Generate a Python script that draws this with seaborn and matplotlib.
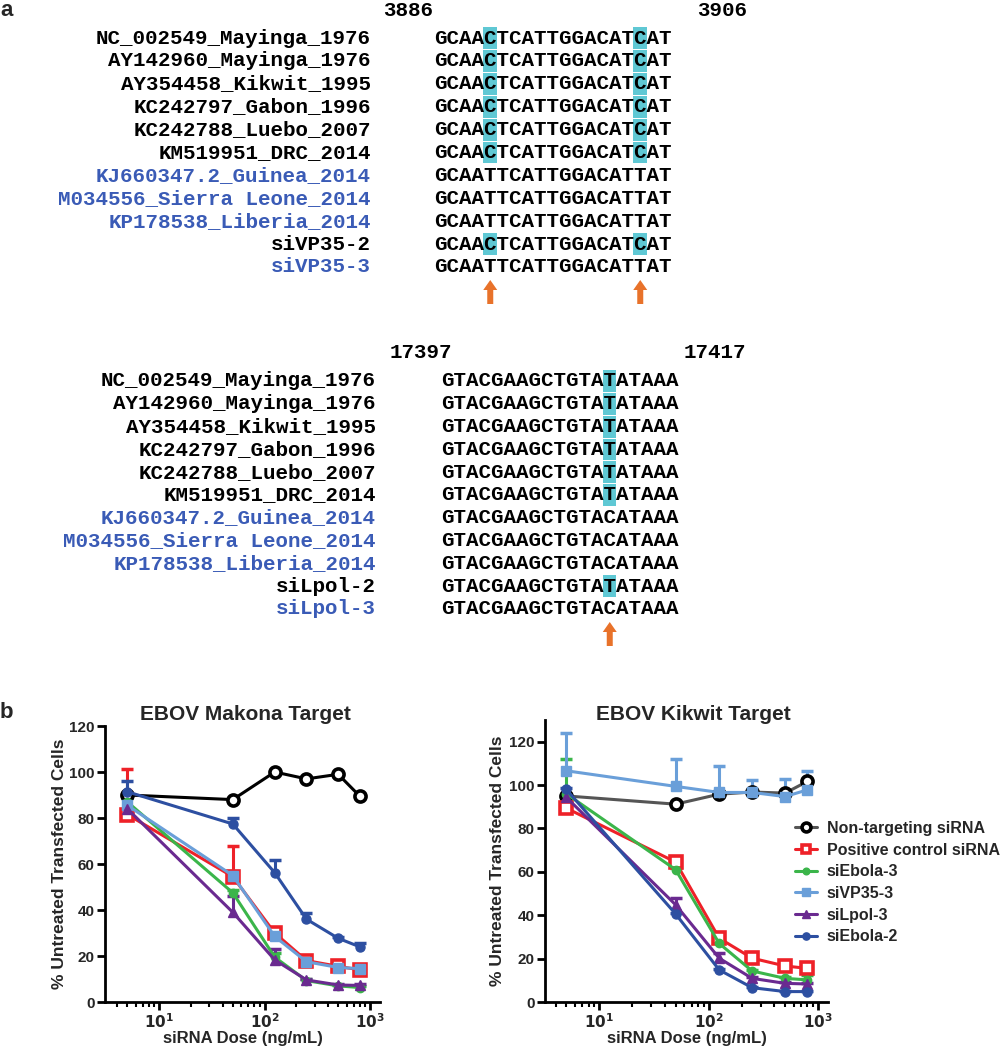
import numpy as np
import pandas as pd
import matplotlib
matplotlib.use("Agg")
import matplotlib.pyplot as plt
from matplotlib.ticker import FixedLocator, LogLocator, NullFormatter, FuncFormatter
import seaborn as sns

# ---- panel a: alignments ----
strains = ["NC_002549_Mayinga_1976", "AY142960_Mayinga_1976", "AY354458_Kikwit_1995",
           "KC242797_Gabon_1996", "KC242788_Luebo_2007", "KM519951_DRC_2014",
           "KJ660347.2_Guinea_2014", "M034556_Sierra Leone_2014", "KP178538_Liberia_2014"]
west_africa = [False] * 6 + [True] * 3

vp35_labels = strains + ["siVP35-2", "siVP35-3"]
vp35_blue = west_africa + [False, True]
vp35_seqs = ["GCAACTCATTGGACATCAT"] * 6 + ["GCAATTCATTGGACATTAT"] * 3 + \
            ["GCAACTCATTGGACATCAT", "GCAATTCATTGGACATTAT"]
vp35_pos = ["3886", "3906"]

lpol_labels = strains + ["siLpol-2", "siLpol-3"]
lpol_blue = west_africa + [False, True]
lpol_seqs = ["GTACGAAGCTGTATATAAA"] * 6 + ["GTACGAAGCTGTACATAAA"] * 3 + \
            ["GTACGAAGCTGTATATAAA", "GTACGAAGCTGTACATAAA"]
lpol_pos = ["17397", "17417"]

# ---- panel b: dose response ----
doses = [5, 50, 125, 250, 500, 800]
sirnas = ["Non-targeting siRNA", "Positive control siRNA", "siEbola-3",
          "siVP35-3", "siLpol-3", "siEbola-2"]

makona_mean = {
    "Non-targeting siRNA": [90, 88, 100, 97, 99, 89.5],
    "Positive control siRNA": [81.5, 54.5, 30, 18, 15.5, 14],
    "siEbola-3": [87, 47.5, 19.5, 9.3, 7, 6.3],
    "siVP35-3": [85.5, 55, 28.5, 17.5, 15, 14.5],
    "siLpol-3": [84, 39, 18.3, 9.6, 7.4, 7.2],
    "siEbola-2": [91.4, 77.4, 56.2, 36, 27.7, 24],
}
makona_err = {
    "Non-targeting siRNA": [0, 0, 0, 0, 0, 0],
    "Positive control siRNA": [20, 13.5, 2, 1, 1, 1],
    "siEbola-3": [3, 1, 2, 0.5, 0.5, 0.5],
    "siVP35-3": [3, 2, 2, 1, 1, 1],
    "siLpol-3": [5, 7, 4.6, 0.5, 0.5, 0.5],
    "siEbola-2": [4.5, 2.5, 5.5, 2.8, 0.5, 1.5],
}
kikwit_mean = {
    "Non-targeting siRNA": [95, 91.2, 95.8, 96.8, 96.3, 101.7],
    "Positive control siRNA": [89.4, 64.5, 29.4, 20.2, 16.6, 15.5],
    "siEbola-3": [96, 61, 27, 14.3, 10.9, 10.2],
    "siVP35-3": [106.6, 99.4, 96.6, 96.6, 94.7, 97.8],
    "siLpol-3": [94.4, 44.8, 20.2, 10.9, 8.6, 8.3],
    "siEbola-2": [98, 40.6, 14.8, 6.6, 4.8, 4.8],
}
kikwit_err = {
    "Non-targeting siRNA": [0, 0, 0, 0, 0, 0],
    "Positive control siRNA": [1, 1.5, 1, 0.5, 0.5, 0.5],
    "siEbola-3": [16, 1, 1, 0.5, 0.5, 2.3],
    "siVP35-3": [17.4, 12.6, 12, 5.8, 8.2, 8.5],
    "siLpol-3": [1, 3, 2.3, 0.5, 0.5, 0.5],
    "siEbola-2": [0.5, 0.5, 0.5, 0.5, 0.3, 0.3],
}

# color, marker, open marker, marker size
styles = {
    "Non-targeting siRNA": ("black", "o", True, 8),
    "Positive control siRNA": ("#ee2128", "s", True, 8),
    "siEbola-3": ("#3bb54a", "o", False, 6),
    "siVP35-3": ("#6a9fd9", "s", False, 7),
    "siLpol-3": ("#6a2a90", "^", False, 6.5),
    "siEbola-2": ("#2d4fa1", "o", False, 6.5),
}

W, H = 1003, 1050
sns.set_style("ticks")
plt.rcParams["font.family"] = ["Liberation Sans", "DejaVu Sans"]

fig = plt.figure(figsize=(W / 100, H / 100), dpi=100)

# layout axes in pixel units for the alignment text
axa = fig.add_axes([0, 0, 1, 1])
axa.set_xlim(0, W)
axa.set_ylim(H, 0)
axa.axis("off")

MONO = "Liberation Mono"
FS = 15
CW = FS * 100 / 72 * 0.6   # monospace character advance in px
BLUE = "#3a5bb6"
HL = "#5fc8d4"
ORANGE = "#e8722a"


def draw_block(labels, blues, seqs, pos, label_right, seq_x0, row0, row_h, pos_xy):
    rows = row0 + np.arange(len(seqs)) * row_h
    ref, alt = seqs[-2], seqs[-1]
    var_cols = [j for j in range(len(ref)) if ref[j] != alt[j]]
    for j in var_cols:
        hl_rows = [r for r, s in zip(rows, seqs) if s[j] == ref[j]]
        axa.bar([seq_x0 + j * CW + CW / 2] * len(hl_rows), [row_h - 1] * len(hl_rows),
                bottom=np.array(hl_rows) - row_h / 2 + 0.5, width=CW + 1,
                color=HL, linewidth=0, zorder=1)
        xa = seq_x0 + j * CW + CW / 2
        ytop = rows[-1] + 13
        axa.arrow(xa, ytop + 24, 0, -24, width=6, head_width=14, head_length=10,
                  length_includes_head=True, color=ORANGE, linewidth=0)
    for r, lab, b, s in zip(rows, labels, blues, seqs):
        axa.text(label_right, r, lab, ha="right", va="center", family=MONO,
                 weight="bold", fontsize=FS, color=BLUE if b else "black")
        axa.text(seq_x0, r, s, ha="left", va="center", family=MONO,
                 weight="bold", fontsize=FS, color="black", zorder=2)
    for (x, y), p in zip(pos_xy, pos):
        axa.text(x, y, p, ha="center", va="center", family=MONO, weight="bold",
                 fontsize=FS, color="black")


draw_block(vp35_labels, vp35_blue, vp35_seqs, vp35_pos, 371, 434, 38, 22.9,
           [(408, 10), (722, 10)])
draw_block(lpol_labels, lpol_blue, lpol_seqs, lpol_pos, 376, 441, 381, 22.8,
           [(421, 353), (715, 353)])

axa.text(0, 10, "a", ha="left", va="center", fontsize=16, weight="bold")
axa.text(0, 712, "b", ha="left", va="center", fontsize=16, weight="bold")


def draw_curves(ax, means, errs, title, title_xy, xlim, ylim, ylab_x, xlab_y,
                gray_ctrl=False):
    for name in sirnas:
        c, m, open_, ms = styles[name]
        y = np.array(means[name])
        e = np.array(errs[name])
        ax.vlines(doses, y, y + e, color=c, linewidth=2.2, zorder=2)
        ax.plot(doses, y + e, linestyle="none", marker="_", markersize=8,
                markeredgewidth=2.5, color=c, zorder=2)
        df = pd.DataFrame({"dose": doses, "pct": y})
        line_c = "#555555" if (gray_ctrl and name == sirnas[0]) else c
        sns.lineplot(data=df, x="dose", y="pct", ax=ax, color=line_c, marker=m,
                     markersize=ms, markerfacecolor="white" if open_ else c,
                     markeredgecolor=c, markeredgewidth=2.6 if open_ else 1,
                     linewidth=2.2, label=name, zorder=3)
    ax.set_xscale("log")
    ax.set_xlim(*xlim)
    ax.set_ylim(*ylim)
    ax.yaxis.set_major_locator(FixedLocator([0, 20, 40, 60, 80, 100, 120]))
    ax.xaxis.set_major_locator(FixedLocator([10, 100, 1000]))
    ax.xaxis.set_major_formatter(FuncFormatter(
        lambda v, p: r"$\mathbf{10^{%d}}$" % round(np.log10(v))))
    ax.xaxis.set_minor_locator(LogLocator(base=10, subs=np.arange(2, 10)))
    ax.xaxis.set_minor_formatter(NullFormatter())
    for lab in ax.get_yticklabels():
        lab.set_fontweight("bold")
    ax.tick_params(axis="both", which="major", labelsize=11, width=2, length=6,
                   color="black", pad=1.5)
    ax.tick_params(axis="x", which="minor", width=1.5, length=3.5, color="black")
    for sp in ["left", "bottom"]:
        ax.spines[sp].set_linewidth(2)
        ax.spines[sp].set_color("black")
    sns.despine(ax=ax)
    ax.set_xlabel("siRNA Dose (ng/mL)", fontsize=12, weight="bold", va="center")
    ax.set_ylabel("% Untreated Transfected Cells", fontsize=12.5, weight="bold",
                  va="center")
    ax.yaxis.set_label_coords(ylab_x, 0.5)
    ax.xaxis.set_label_coords(0.5, xlab_y)
    ax.text(title_xy[0], title_xy[1], title, transform=ax.transAxes, ha="center",
            va="center", fontsize=15, weight="bold")


ax1 = fig.add_axes([105 / W, 1 - 1002 / H, 275 / W, 276 / H])
ax2 = fig.add_axes([545 / W, 1 - 1002 / H, 283 / W, 282 / H])

draw_curves(ax1, makona_mean, makona_err, "EBOV Makona Target", (0.51, 1.04),
            (3.07, 1245), (0, 120), -0.164, -36 / 276)
draw_curves(ax2, kikwit_mean, kikwit_err, "EBOV Kikwit Target", (0.523, 1.018),
            (3.2, 1234), (0, 130), -0.168, -36 / 282, gray_ctrl=True)

ax1.get_legend().remove()
handles, labels = ax2.get_legend_handles_labels()
leg = ax2.legend(handles, labels, loc="upper left", bbox_to_anchor=(0.86, 0.665),
                 frameon=False, handlelength=1.4, handletextpad=0.6,
                 labelspacing=0.42, borderaxespad=0, markerscale=0.8,
                 prop={"weight": "bold", "size": 11.5})

fig.savefig("out.png", dpi=100)
